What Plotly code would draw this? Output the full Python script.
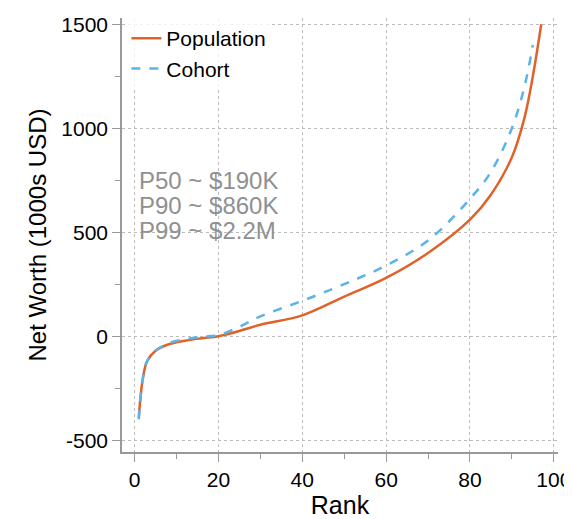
import plotly.graph_objects as go

pop_rank = [1, 2, 3, 5, 8, 12, 16, 20, 25, 30, 40, 50, 60, 70, 80, 85, 90, 93, 95, 97]
pop_val = [-390, -200, -120, -70, -40, -22, -10, 0, 25, 55, 100, 190, 280, 400, 560, 680, 860, 1050, 1250, 1500]
coh_rank = [1, 2, 3, 5, 8, 12, 16, 20, 25, 30, 40, 50, 60, 70, 80, 85, 90, 93, 95]
coh_val = [-400, -200, -120, -70, -35, -15, -3, 5, 45, 95, 170, 250, 340, 460, 660, 790, 1000, 1200, 1400]
notes = ["P50 ~ $190K", "P90 ~ $860K", "P99 ~ $2.2M"]
note_y = [750, 630, 510]
y_ticks = [-500, 0, 500, 1000, 1500]
y_labels = ["-500", "0", "500", "1000", "1500"]

fig = go.Figure()
fig.add_trace(go.Scatter(x=pop_rank, y=pop_val, mode="lines", name="Population",
                         line=dict(color="#e0622a", width=2.5, shape="spline")))
fig.add_trace(go.Scatter(x=coh_rank, y=coh_val, mode="lines", name="Cohort",
                         line=dict(color="#5ab4e8", width=2.5, dash="dash", shape="spline")))
for t, yv in zip(notes, note_y):
    fig.add_annotation(x=0.5, y=yv, text=t, showarrow=False, xanchor="left",
                       font=dict(size=24, color="#909090"))
ax = dict(showline=True, linecolor="#999", linewidth=1.5, ticks="outside", ticklen=8,
          tickcolor="#999", showgrid=True, gridcolor="#bbb", griddash="dot", zeroline=False,
          automargin=False, tickfont=dict(size=21, color="black"))
fig.update_layout(
    width=572, height=519, margin=dict(l=114, r=22, t=10, b=75),
    plot_bgcolor="white", paper_bgcolor="white",
    font=dict(family="Liberation Sans, Arial", color="black"),
    xaxis=dict(range=[-3, 101], tickvals=[0, 20, 40, 60, 80, 100],
               title=dict(text="Rank", font=dict(size=25), standoff=1), **ax),
    yaxis=dict(range=[-557, 1530], tickvals=y_ticks, ticktext=y_labels,
               title=dict(text="Net Worth (1000s USD)", font=dict(size=24), standoff=8), **ax),
    legend=dict(x=0.01, y=1.0, xanchor="left", yanchor="top", bgcolor="rgba(255,255,255,0.8)",
                font=dict(size=21)),
)
fig.update_xaxes(minor=dict(dtick=10, ticks="outside", ticklen=5, tickcolor="#999", showgrid=False))
fig.update_yaxes(minor=dict(dtick=250, ticks="outside", ticklen=5, tickcolor="#999", showgrid=False))
fig.write_html("out.html")
